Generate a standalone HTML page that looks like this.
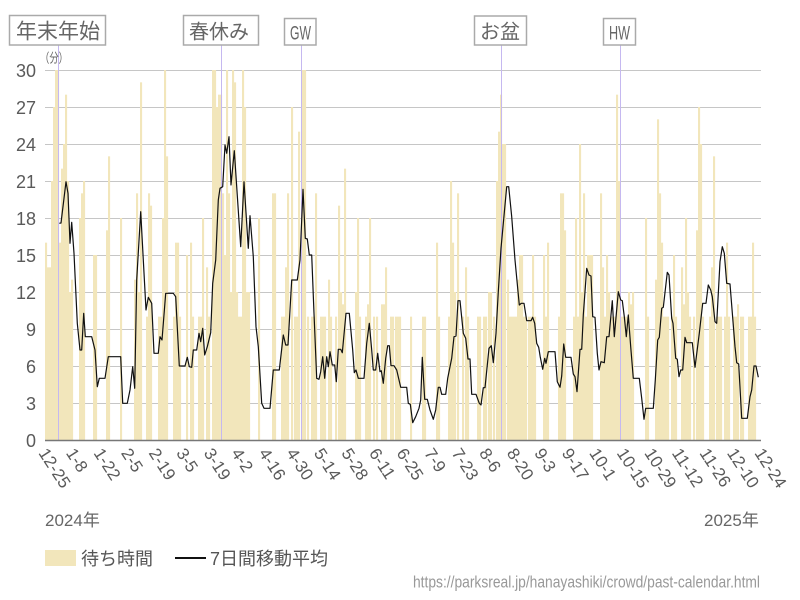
<!DOCTYPE html>
<html>
<head>
<meta charset="utf-8">
<style>
html,body{margin:0;padding:0;background:#fff;}
svg{display:block;}
text{font-family:"Liberation Sans","Noto Sans CJK JP",sans-serif;}
</style>
</head>
<body>
<svg width="800" height="600" viewBox="0 0 800 600" xmlns="http://www.w3.org/2000/svg">
<rect width="800" height="600" fill="#fff"/>
<!-- gridlines -->
<g stroke="#c6c6c6" stroke-width="1">
<line x1="45" y1="70.5" x2="761" y2="70.5"/>
<line x1="45" y1="107.5" x2="761" y2="107.5"/>
<line x1="45" y1="144.5" x2="761" y2="144.5"/>
<line x1="45" y1="181.5" x2="761" y2="181.5"/>
<line x1="45" y1="218.5" x2="761" y2="218.5"/>
<line x1="45" y1="255.5" x2="761" y2="255.5"/>
<line x1="45" y1="292.5" x2="761" y2="292.5"/>
<line x1="45" y1="329.5" x2="761" y2="329.5"/>
<line x1="45" y1="366.5" x2="761" y2="366.5"/>
<line x1="45" y1="403.5" x2="761" y2="403.5"/>
</g>
<!-- bars -->
<g transform="translate(-1,440) scale(1,-12.333)" fill="#f2e6bb">
<rect x="46" width="2.1" height="16"/><rect x="48" width="2.1" height="14"/><rect x="50" width="2.1" height="14"/><rect x="52" width="2.1" height="21"/><rect x="54" width="2.1" height="27"/><rect x="56" width="2.1" height="30"/><rect x="58" width="2.1" height="30"/><rect x="60" width="2.1" height="16"/><rect x="62" width="2.1" height="22"/><rect x="64" width="2.1" height="24"/><rect x="66" width="2.1" height="28"/><rect x="68" width="2.1" height="21"/><rect x="70" width="2.1" height="12"/><rect x="72" width="2.1" height="13"/>
<rect x="80" width="2.1" height="18"/><rect x="82" width="2.1" height="20"/><rect x="84" width="2.1" height="21"/><rect x="94" width="2.1" height="15"/><rect x="96" width="2.1" height="15"/><rect x="107" width="2.1" height="17"/><rect x="109" width="2.1" height="23"/><rect x="121" width="2.1" height="18"/>
<rect x="135" width="2.1" height="13"/><rect x="137" width="2.1" height="20"/><rect x="139" width="2.1" height="12"/><rect x="141" width="2.1" height="29"/><rect x="147" width="2.1" height="10"/><rect x="149" width="2.1" height="20"/><rect x="151" width="2.1" height="19"/>
<rect x="159" width="2.1" height="10"/><rect x="161" width="2.1" height="10"/><rect x="163" width="2.1" height="18"/><rect x="165" width="2.1" height="30"/><rect x="167" width="2.1" height="23"/>
<rect x="174" width="2.1" height="10"/><rect x="176" width="2.1" height="16"/><rect x="178" width="2.1" height="16"/><rect x="180" width="2.1" height="10"/><rect x="187" width="2.1" height="15"/><rect x="191" width="2.1" height="16"/><rect x="193" width="2.1" height="10"/>
<rect x="199" width="2.1" height="10"/><rect x="201" width="2.1" height="10"/><rect x="203" width="2.1" height="18"/><rect x="207" width="2.1" height="14"/><rect x="209" width="2.1" height="10"/>
<rect x="213" width="2.1" height="30"/><rect x="215" width="2.1" height="30"/><rect x="217" width="2.1" height="27"/><rect x="219" width="2.1" height="28"/><rect x="221" width="2.1" height="28"/><rect x="223" width="2.1" height="20"/><rect x="225" width="2.1" height="15"/><rect x="227" width="2.1" height="30"/><rect x="229" width="2.1" height="20"/><rect x="231" width="2.1" height="12"/><rect x="233" width="2.1" height="30"/><rect x="235" width="2.1" height="29"/><rect x="237" width="2.1" height="12"/><rect x="239" width="2.1" height="10"/><rect x="241" width="2.1" height="10"/><rect x="243" width="2.1" height="30"/><rect x="245" width="2.1" height="27"/><rect x="247" width="2.1" height="12"/><rect x="249" width="2.1" height="12"/>
<rect x="259" width="2.1" height="18"/><rect x="273" width="2.1" height="20"/><rect x="275" width="2.1" height="20"/>
<rect x="282" width="2.1" height="10"/><rect x="284" width="2.1" height="10"/><rect x="286" width="2.1" height="14"/><rect x="288" width="2.1" height="20"/><rect x="292" width="2.1" height="27"/><rect x="295" width="2.1" height="10"/><rect x="297" width="2.1" height="10"/><rect x="299" width="2.1" height="25"/><rect x="303" width="2.1" height="30"/><rect x="305" width="2.1" height="30"/><rect x="308" width="2.1" height="10"/>
<rect x="312" width="2.1" height="10"/><rect x="314" width="2.1" height="10"/><rect x="316" width="2.1" height="20"/><rect x="321" width="2.1" height="10"/><rect x="323" width="2.1" height="10"/><rect x="325" width="2.1" height="10"/><rect x="329" width="2.1" height="13"/><rect x="331" width="2.1" height="10"/><rect x="336" width="2.1" height="10"/>
<rect x="339" width="2.1" height="19"/><rect x="341" width="2.1" height="12"/><rect x="343" width="2.1" height="11"/><rect x="345" width="2.1" height="22"/><rect x="356" width="2.1" height="12"/><rect x="358" width="2.1" height="18"/><rect x="360" width="2.1" height="10"/>
<rect x="366" width="2.1" height="10"/><rect x="368" width="2.1" height="11"/><rect x="370" width="2.1" height="18"/><rect x="374" width="2.1" height="10"/><rect x="377" width="2.1" height="10"/><rect x="382" width="2.1" height="11"/><rect x="384" width="2.1" height="11"/><rect x="386" width="2.1" height="14"/>
<rect x="391" width="2.1" height="10"/><rect x="393" width="2.1" height="10"/><rect x="396" width="2.1" height="10"/><rect x="398" width="2.1" height="10"/><rect x="400" width="2.1" height="10"/>
<rect x="411" width="2.1" height="10"/><rect x="423" width="2.1" height="10"/><rect x="425" width="2.1" height="10"/><rect x="437" width="2.1" height="16"/><rect x="439" width="2.1" height="10"/>
<rect x="449" width="2.1" height="10"/><rect x="451" width="2.1" height="21"/><rect x="453" width="2.1" height="16"/><rect x="455" width="2.1" height="12"/><rect x="458" width="2.1" height="20"/><rect x="463" width="2.1" height="10"/><rect x="466" width="2.1" height="14"/><rect x="468" width="2.1" height="10"/>
<rect x="478" width="2.1" height="10"/><rect x="480" width="2.1" height="10"/><rect x="484" width="2.1" height="10"/><rect x="486" width="2.1" height="10"/><rect x="489" width="2.1" height="12"/><rect x="491" width="2.1" height="12"/><rect x="494" width="2.1" height="10"/>
<rect x="497" width="2.1" height="21"/><rect x="499" width="2.1" height="25"/><rect x="501" width="2.1" height="28"/><rect x="503" width="2.1" height="24"/><rect x="505" width="2.1" height="24"/><rect x="508" width="2.1" height="13"/><rect x="510" width="2.1" height="10"/><rect x="512" width="2.1" height="10"/><rect x="514" width="2.1" height="10"/><rect x="516" width="2.1" height="10"/><rect x="518" width="2.1" height="13"/><rect x="520" width="2.1" height="15"/><rect x="522" width="2.1" height="15"/><rect x="524" width="2.1" height="10"/><rect x="526" width="2.1" height="10"/>
<rect x="529" width="2.1" height="10"/><rect x="531" width="2.1" height="10"/><rect x="533" width="2.1" height="15"/><rect x="535" width="2.1" height="10"/><rect x="544" width="2.1" height="15"/><rect x="546" width="2.1" height="10"/><rect x="548" width="2.1" height="16"/>
<rect x="559" width="2.1" height="10"/><rect x="561" width="2.1" height="20"/><rect x="563" width="2.1" height="20"/><rect x="565" width="2.1" height="17"/><rect x="574" width="2.1" height="10"/><rect x="576" width="2.1" height="18"/><rect x="578" width="2.1" height="10"/>
<rect x="580" width="2.1" height="24"/><rect x="582" width="2.1" height="12"/><rect x="584" width="2.1" height="20"/><rect x="586" width="2.1" height="10"/><rect x="588" width="2.1" height="15"/><rect x="590" width="2.1" height="15"/><rect x="592" width="2.1" height="15"/>
<rect x="601" width="2.1" height="20"/><rect x="603" width="2.1" height="14"/><rect x="605" width="2.1" height="10"/><rect x="607" width="2.1" height="15"/><rect x="609" width="2.1" height="12"/><rect x="611" width="2.1" height="10"/><rect x="613" width="2.1" height="10"/><rect x="615" width="2.1" height="10"/><rect x="617" width="2.1" height="28"/><rect x="619" width="2.1" height="21"/><rect x="621" width="2.1" height="10"/><rect x="623" width="2.1" height="10"/><rect x="625" width="2.1" height="10"/><rect x="627" width="2.1" height="10"/><rect x="629" width="2.1" height="12"/><rect x="631" width="2.1" height="11"/><rect x="633" width="2.1" height="12"/>
<rect x="646" width="2.1" height="18"/><rect x="648" width="2.1" height="10"/><rect x="656" width="2.1" height="13"/><rect x="658" width="2.1" height="26"/><rect x="660" width="2.1" height="20"/><rect x="662" width="2.1" height="16"/><rect x="664" width="2.1" height="10"/><rect x="666" width="2.1" height="10"/><rect x="668" width="2.1" height="10"/>
<rect x="672" width="2.1" height="10"/><rect x="674" width="2.1" height="15"/><rect x="676" width="2.1" height="10"/><rect x="682" width="2.1" height="14"/><rect x="684" width="2.1" height="11"/><rect x="686" width="2.1" height="18"/><rect x="688" width="2.1" height="12"/><rect x="690" width="2.1" height="10"/>
<rect x="694" width="2.1" height="10"/><rect x="697" width="2.1" height="17"/><rect x="699" width="2.1" height="27"/><rect x="701" width="2.1" height="24"/><rect x="703" width="2.1" height="10"/><rect x="710" width="2.1" height="10"/><rect x="712" width="2.1" height="14"/><rect x="714" width="2.1" height="23"/><rect x="717" width="2.1" height="10"/><rect x="719" width="2.1" height="10"/><rect x="721" width="2.1" height="10"/>
<rect x="725" width="2.1" height="10"/><rect x="727" width="2.1" height="16"/><rect x="729" width="2.1" height="10"/><rect x="734" width="2.1" height="10"/><rect x="736" width="2.1" height="10"/><rect x="738" width="2.1" height="11"/><rect x="741" width="2.1" height="10"/><rect x="743" width="2.1" height="10"/>
<rect x="749" width="2.1" height="10"/><rect x="751" width="2.1" height="10"/><rect x="753" width="2.1" height="16"/><rect x="755" width="2.1" height="10"/>
</g>
<!-- event vertical lines -->
<g stroke="#c5b8f0" stroke-width="1">
<line x1="58.5" y1="45" x2="58.5" y2="440"/>
<line x1="221.5" y1="45" x2="221.5" y2="440"/>
<line x1="301.5" y1="45" x2="301.5" y2="440"/>
<line x1="501.5" y1="45" x2="501.5" y2="440"/>
<line x1="620.5" y1="45" x2="620.5" y2="440"/>
</g>
<!-- moving average -->
<polyline fill="none" stroke="#111" stroke-width="1.2" stroke-linejoin="round" points="59.3,223.3 61,223 66,181.7 68,193.3 70,243.3 71.7,222.3 74,253.3 77.3,323.3 80,350 81.7,350 83.7,313.3 85.3,336.7 91.7,336.7 95,350 97.3,386.7 99.3,378.3 105,378.3 108.3,356.7 120.7,356.7 122.7,403.3 127.3,403.3 130,390 132.7,366.7 134.7,388.3 136.7,280 140.7,211.7 146,310 148.3,297.3 151.7,303.3 154,353.3 158.3,353.3 160,336.7 162,340 165.7,293.3 173.3,293.3 175.7,296.7 179.3,366 185,366 187.3,357.3 189.3,366.7 191.7,367.3 193.3,350 196.7,350 199,333.3 200.7,341.7 202.7,328.3 204.7,355 207.3,346.7 210.7,332.7 212.7,283.3 215.7,260 218.3,200 220,188.3 222.7,186.7 225,145 226.7,153.3 229,136.7 231,185 234.3,150.7 240.7,246.7 244,181.7 248.3,248.3 250,215.7 253.3,256.7 256,326.7 258.3,346.7 261.7,403.3 264,408.3 270,408.3 273.3,370 279.3,370 283.3,335 285.7,345 288,345 291.7,280 297.3,280 300,260 303,189.3 305.3,238.3 307.3,239 309.3,255 311.7,255 314,313.3 316.7,378.3 319,379.3 320.7,371.7 322.7,356.7 324.7,378.3 326.7,356.7 328.3,366.7 330,351.7 332.3,365 334.7,365 336.3,381.7 338.3,349.3 340.7,349.3 342.3,352.7 346,313.3 349.3,313.3 352.7,350 354.3,372.7 356,370 358.3,378.3 364,378.3 366.7,343.3 369.3,323.3 371.7,350 373.3,370 375.7,370 377.7,353.3 380,371.7 381.3,370.7 383.3,383.3 385.7,358.3 387.7,345.7 389.3,345.7 391,365.7 394,365.7 396.7,370 400.7,387.3 406.7,387.3 408.3,403.3 410.3,404.3 412.7,422.7 415.7,416.7 419,408.3 420.7,400 422.3,357.3 424.7,399.3 427.3,399.3 430,410 433.3,419.3 435.7,410 438.3,387.3 440,387.3 441.7,394.3 445.7,394.3 447.7,378.3 451.7,358.3 454,336.7 456,336 458,300.7 460,300.7 463.3,333.3 465.7,338.3 468,359 470,359 471.7,394.3 476,394.3 479.3,403.3 481,405 483.3,387.7 485,387.7 489,348.3 491.3,345.7 493.3,362.7 496,333.3 498.3,291.7 501,248.3 506.7,186.7 508.7,186.7 511.7,216.7 515,260 519.3,305 521.3,303.3 524,303.3 526.7,320.7 531,320.7 532.7,317.3 534.7,323.3 536.7,343.3 538.7,347.3 540.3,357.3 542.7,369.3 544.7,358.3 546,363.3 548.3,351.7 555,351.7 557.3,381.7 560,387.3 561.7,376 563.7,344 565.7,357.3 571,357.3 573.3,374 575,376.7 577,391.7 580,349.3 581.7,349.3 583.3,315 586.7,268.3 589,275 591,276 592.7,316.7 595,317.3 597.3,353.3 599,370 601,361.7 604.3,362.7 606.7,336.7 609,336.7 612.3,300.7 614.3,336.7 618.3,291.7 620.7,300 622.3,300.7 624.3,316.7 626.3,336.7 628.3,315 630.7,346.7 633.3,378.3 639.3,378.3 641.7,398.3 644,419.3 645.7,408.3 653.3,408.3 655.3,380 657.7,340 659.3,337.3 661.7,308.3 663.3,307.3 667.3,272.3 669,275 671.7,318.3 673,323.3 675.7,358.3 677.3,359.3 679,376.7 680.7,370 682.7,370 685,337.3 686.7,342.7 692.3,342.7 695,367.3 699.3,333.3 702.7,303.3 706,303.3 708.3,285 710.7,290 712.3,296.7 715,321.7 716.7,323.3 720,261.7 722.3,246.7 724.3,253.3 726.7,283.3 730,284 735,346.7 736.7,362.7 738.7,364 741.7,418.3 747.3,418.3 750,396.7 751.7,390 754,366 756,366 758.3,377.3"/>
<!-- x axis -->
<line x1="45" y1="440.5" x2="761" y2="440.5" stroke="#777" stroke-width="1.5"/>
<!-- y labels -->
<g fill="#5a5a5a" font-size="18" text-anchor="end">
<text x="36" y="77">30</text>
<text x="36" y="114">27</text>
<text x="36" y="151">24</text>
<text x="36" y="188">21</text>
<text x="36" y="225">18</text>
<text x="36" y="262">15</text>
<text x="36" y="299">12</text>
<text x="36" y="336">9</text>
<text x="36" y="373">6</text>
<text x="36" y="410">3</text>
<text x="36" y="447">0</text>
</g>
<text x="40" y="62.5" font-size="13" fill="#666" textLength="28" lengthAdjust="spacingAndGlyphs">（分）</text>
<!-- x labels -->
<g fill="#5a5a5a" font-size="17">
<text transform="translate(38,453) rotate(57)">12-25</text>
<text transform="translate(65.5,453) rotate(57)">1-8</text>
<text transform="translate(93.1,453) rotate(57)">1-22</text>
<text transform="translate(120.6,453) rotate(57)">2-5</text>
<text transform="translate(148.2,453) rotate(57)">2-19</text>
<text transform="translate(175.7,453) rotate(57)">3-5</text>
<text transform="translate(203.2,453) rotate(57)">3-19</text>
<text transform="translate(230.8,453) rotate(57)">4-2</text>
<text transform="translate(258.3,453) rotate(57)">4-16</text>
<text transform="translate(285.9,453) rotate(57)">4-30</text>
<text transform="translate(313.4,453) rotate(57)">5-14</text>
<text transform="translate(340.9,453) rotate(57)">5-28</text>
<text transform="translate(368.5,453) rotate(57)">6-11</text>
<text transform="translate(396,453) rotate(57)">6-25</text>
<text transform="translate(423.6,453) rotate(57)">7-9</text>
<text transform="translate(451.1,453) rotate(57)">7-23</text>
<text transform="translate(478.6,453) rotate(57)">8-6</text>
<text transform="translate(506.2,453) rotate(57)">8-20</text>
<text transform="translate(533.7,453) rotate(57)">9-3</text>
<text transform="translate(561.3,453) rotate(57)">9-17</text>
<text transform="translate(588.8,453) rotate(57)">10-1</text>
<text transform="translate(616.3,453) rotate(57)">10-15</text>
<text transform="translate(643.9,453) rotate(57)">10-29</text>
<text transform="translate(671.4,453) rotate(57)">11-12</text>
<text transform="translate(699,453) rotate(57)">11-26</text>
<text transform="translate(726.5,453) rotate(57)">12-10</text>
<text transform="translate(754,453) rotate(57)">12-24</text>
</g>
<text x="45" y="526" font-size="17" fill="#666">2024年</text>
<text x="704" y="526" font-size="17" fill="#666">2025年</text>
<!-- event labels -->
<g fill="#fff" stroke="#aaa" stroke-width="1.5">
<rect x="9.5" y="15.5" width="96" height="29.5"/>
<rect x="183.5" y="15.5" width="75" height="29.5"/>
<rect x="284.5" y="18.5" width="31.5" height="26.5"/>
<rect x="474.5" y="16" width="52" height="29"/>
<rect x="603.5" y="18.5" width="32" height="26.5"/>
</g>
<g fill="#666">
<text x="16" y="38.5" font-size="21">年末年始</text>
<text x="189" y="38.5" font-size="20">春休み</text>
<text x="290" y="39.5" font-size="19" textLength="21" lengthAdjust="spacingAndGlyphs">GW</text>
<text x="480" y="38.5" font-size="20">お盆</text>
<text x="609" y="39.5" font-size="19" textLength="21" lengthAdjust="spacingAndGlyphs">HW</text>
</g>
<!-- legend -->
<rect x="45" y="550" width="31" height="16" fill="#f2e6bb"/>
<text x="81" y="565" font-size="18" fill="#555">待ち時間</text>
<line x1="175" y1="558" x2="206" y2="558" stroke="#111" stroke-width="2"/>
<text x="210" y="565" font-size="18" fill="#555">7日間移動平均</text>
<!-- url -->
<text x="413" y="587.5" font-size="17" fill="#999" textLength="347" lengthAdjust="spacingAndGlyphs">https://parksreal.jp/hanayashiki/crowd/past-calendar.html</text>
</svg>
</body>
</html>
